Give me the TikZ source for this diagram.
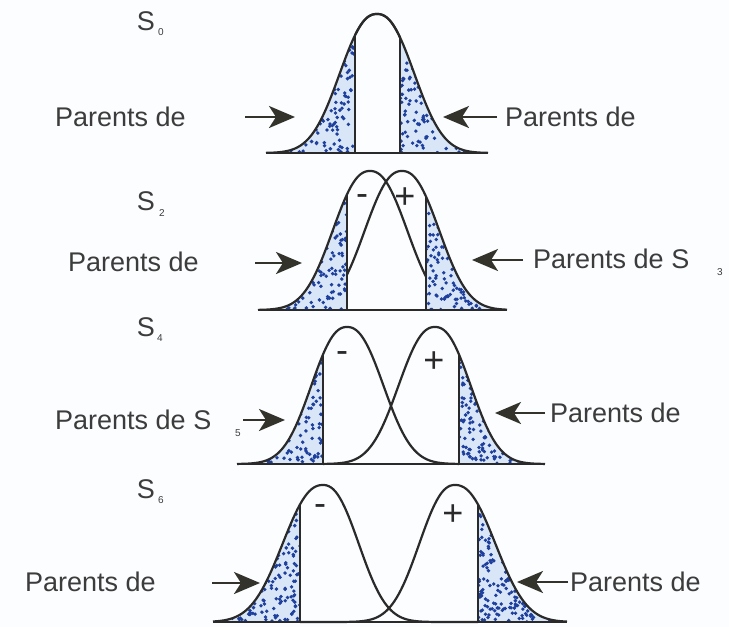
\documentclass[tikz,border=0pt]{standalone}
\usepackage{fontspec}
\setmainfont{Liberation Sans}
\usetikzlibrary{arrows.meta}
\definecolor{inkc}{HTML}{2A2A2A}
\definecolor{textc}{HTML}{3C3C3C}
\definecolor{arrc}{HTML}{33332B}
\definecolor{fillc}{HTML}{D8E6F8}
\definecolor{dotc}{HTML}{1F3F9C}
\definecolor{bgc}{HTML}{FCFDFF}
\tikzset{
  bellcurve/.style={draw=inkc, line width=2.2pt, line join=round},
  vln/.style={draw=inkc, line width=1.6pt},
  baseln/.style={draw=inkc, line width=2pt},
  arrw/.style={draw=arrc, line width=2.4pt, -{Stealth[length=26pt,width=22pt,inset=7pt]}},
  labl/.style={text=textc, inner sep=0pt, font=\fontsize{27}{32}\selectfont},
  sgnl/.style={text=inkc, inner sep=0pt, font=\fontsize{36}{36}\selectfont},
  subl/.style={text=textc, inner sep=0pt, font=\fontsize{10}{12}\selectfont},
}
\newcommand{\stip}[5]{%
  \foreach \k in {1,...,#5}{%
    \pgfmathsetmacro{\px}{(#1)+rnd*((#2)-(#1))}%
    \pgfmathsetmacro{\py}{(#3)+rnd*((#4)-(#3))}%
    \fill[dotc] (\px,\py) circle[radius=1.9pt];}}
\newcommand{\drawrow}{%
  \pgfmathsetmacro{\tL}{\rB-\rA*bellA(\rvL,\rcL,\rwo,\rwi)}%
  \pgfmathsetmacro{\tR}{\rB-\rA*bellA(\rvR,\rcR,\rwi,\rwo)}%
  \fill[fillc] (\rxs,\rB) -- plot[domain=\rxs:\rvL,samples=50] (\x,{\rB-\rA*bellA(\x,\rcL,\rwo,\rwi)}) -- (\rvL,\rB) -- cycle;
  \begin{scope}
    \clip (\rxs,\rB) -- plot[domain=\rxs:\rvL,samples=50] (\x,{\rB-\rA*bellA(\x,\rcL,\rwo,\rwi)}) -- (\rvL,\rB) -- cycle;
    \stip{\rxs}{\rvL}{\rB-\rA}{\rB}{\rn}
  \end{scope}
  \fill[fillc] (\rvR,\rB) -- plot[domain=\rvR:\rxe,samples=50] (\x,{\rB-\rA*bellA(\x,\rcR,\rwi,\rwo)}) -- (\rxe,\rB) -- cycle;
  \begin{scope}
    \clip (\rvR,\rB) -- plot[domain=\rvR:\rxe,samples=50] (\x,{\rB-\rA*bellA(\x,\rcR,\rwi,\rwo)}) -- (\rxe,\rB) -- cycle;
    \stip{\rvR}{\rxe}{\rB-\rA}{\rB}{\rn}
  \end{scope}
  \draw[bellcurve] plot[domain=\rxs:\rvR,samples=120] (\x,{\rB-\rA*bellA(\x,\rcL,\rwo,\rwi)});
  \draw[bellcurve] plot[domain=\rvL:\rxe,samples=120] (\x,{\rB-\rA*bellA(\x,\rcR,\rwi,\rwo)});
  \draw[vln] (\rvL,\rB) -- (\rvL,\tL);
  \draw[vln] (\rvR,\rB) -- (\rvR,\tR);
  \draw[baseln] (\rxs,\rB) -- (\rxe,\rB);
}
\begin{document}
\begin{tikzpicture}[x=1pt,y=-1pt,
  declare function={
    bell(\xx,\mm,\ww)=exp(0-((min(abs(\xx-\mm)/\ww,6)+0.0001)^2.3));
    bellA(\xx,\mm,\wa,\wb)=(\xx<\mm)*bell(\xx,\mm,\wa)+(\xx>=\mm)*bell(\xx,\mm,\wb);
  }]
\useasboundingbox (0,0) rectangle (729,627);
\fill[bgc] (0,0) rectangle (729,627);

% Row 1 (S0)
\def\rB{153}\def\rA{139}\def\rcL{377}\def\rcR{377}\def\rwo{48}\def\rwi{48}
\def\rxs{266}\def\rxe{488}\def\rvL{355}\def\rvR{400}\def\rn{330}
\pgfmathsetseed{11}
\drawrow

% Row 2 (S2)
\def\rB{310}\def\rA{139}\def\rcL{370}\def\rcR{402}\def\rwo{48}\def\rwi{48}
\def\rxs{258}\def\rxe{507}\def\rvL{347}\def\rvR{426}\def\rn{330}
\pgfmathsetseed{23}
\drawrow

% Row 3 (S4)
\def\rB{464}\def\rA{137}\def\rcL{347}\def\rcR{435}\def\rwo{46}\def\rwi{47}
\def\rxs{237}\def\rxe{545}\def\rvL{323}\def\rvR{459}\def\rn{330}
\pgfmathsetseed{37}
\drawrow

% Row 4 (S6)
\def\rB{622}\def\rA{137}\def\rcL{323}\def\rcR{455}\def\rwo{52}\def\rwi{46}
\def\rxs{213}\def\rxe{567}\def\rvL{300}\def\rvR{478}\def\rn{360}
\pgfmathsetseed{41}
\drawrow

% S labels
\node[labl] (s0) at (146,21) {S};  \node[subl] (s0i) at (161,32) {0};
\node[labl] (s2) at (146,201) {S}; \node[subl] (s2i) at (162,213) {2};
\node[labl] (s4) at (146,327) {S}; \node[subl] (s4i) at (160,338) {4};
\node[labl] (s6) at (146,489) {S}; \node[subl] (s6i) at (161,500) {6};

% signs
\node[sgnl] (m2) at (362,200) {-}; \node[sgnl] (p2) at (405,198) {+};
\node[sgnl] (m3) at (342,357) {-}; \node[sgnl] (p3) at (434,362) {+};
\node[sgnl] (m4) at (320,510) {-}; \node[sgnl] (p4) at (453,515) {+};

% labels
\node[labl, anchor=west] (l1) at (55,117) {Parents de};
\node[labl, anchor=west] (r1) at (505,117) {Parents de};
\node[labl, anchor=west] (l2) at (68,262) {Parents de};
\node[labl, anchor=west] (r2) at (533,259) {Parents de S};
\node[subl] (r2i) at (720,272) {3};
\node[labl, anchor=west] (l3) at (55,420) {Parents de S};
\node[subl] (l3i) at (238,433) {5};
\node[labl, anchor=west] (r3) at (550,413) {Parents de};
\node[labl, anchor=west] (l4) at (25,582) {Parents de};
\node[labl, anchor=west] (r4) at (570,582) {Parents de};

% arrows
\coordinate (a1a) at (245,117); \coordinate (a1b) at (295,117);
\coordinate (b1a) at (497,117); \coordinate (b1b) at (443,117);
\coordinate (a2a) at (255,263); \coordinate (a2b) at (302,263);
\coordinate (b2a) at (523,260); \coordinate (b2b) at (472,260);
\coordinate (a3a) at (243,420); \coordinate (a3b) at (285,420);
\coordinate (b3a) at (545,413); \coordinate (b3b) at (495,413);
\coordinate (a4a) at (212,583); \coordinate (a4b) at (260,583);
\coordinate (b4a) at (568,582); \coordinate (b4b) at (517,582);
\draw[arrw] (a1a) -- (a1b);
\draw[arrw] (b1a) -- (b1b);
\draw[arrw] (a2a) -- (a2b);
\draw[arrw] (b2a) -- (b2b);
\draw[arrw] (a3a) -- (a3b);
\draw[arrw] (b3a) -- (b3b);
\draw[arrw] (a4a) -- (a4b);
\draw[arrw] (b4a) -- (b4b);
\end{tikzpicture}
\end{document}
